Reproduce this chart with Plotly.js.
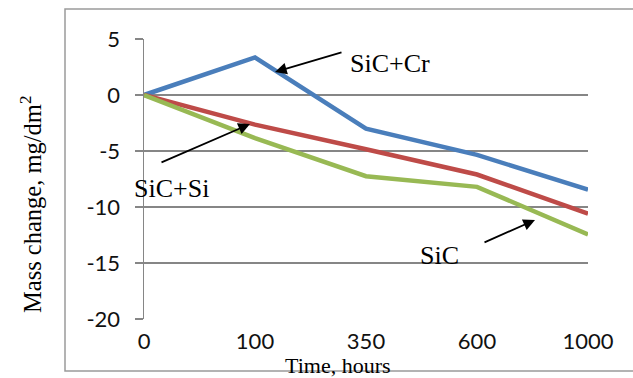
<!DOCTYPE html>
<html><head><meta charset="utf-8">
<script src="https://cdn.plot.ly/plotly-3.0.1.min.js"></script>
<style>html,body{margin:0;padding:0;background:#fff}#chart{width:633px;height:378px}</style>
</head><body><div id="chart"></div>
<script>
const hours = ['0','100','350','600','1000'];
const sicCr = [0, 3.35, -3.0, -5.35, -8.45];
const sicSi = [0, -2.65, -4.85, -7.1, -10.6];
const sic   = [0, -3.85, -7.25, -8.2, -12.45];
const yTicks = [5, 0, -5, -10, -15, -20];
const seriesNames = ['SiC+Cr', 'SiC+Si', 'SiC'];

const L = 144, R = 45, T = 39, B = 59, W = 633, H = 378;
const pw = W - L - R, ph = H - T - B;
const px = x => (x - L) / pw;
const py = y => (H - B - y) / ph;

const serif = 'Liberation Serif, Times New Roman, serif';
const mk = (y, c, n) => ({x: hours, y: y, type: 'scatter', mode: 'lines', name: n,
  line: {color: c, width: 4.5}, hoverinfo: 'skip'});
const data = [
  mk(sicCr, '#4a7ebb', seriesNames[0]),
  mk(sicSi, '#be4b48', seriesNames[1]),
  mk(sic, '#98b954', seriesNames[2])
];
const grey = '#868686';
const arrow = (tx, ty, ax, ay) => ({xref: 'paper', yref: 'paper', x: px(tx), y: py(ty), text: '',
  showarrow: true, ax: ax, ay: ay, arrowhead: 2, arrowsize: 1.3, arrowwidth: 1.8, arrowcolor: '#000'});
const label = (lx, ly, t) => ({xref: 'paper', yref: 'paper', x: px(lx), y: py(ly), text: t, showarrow: false,
  font: {family: serif, size: 26, color: '#000'}, xanchor: 'left', yanchor: 'middle'});
const layout = {
  width: W, height: H, showlegend: false,
  margin: {l: L, r: R, t: T, b: B, pad: 0},
  paper_bgcolor: '#fff', plot_bgcolor: '#fff',
  font: {family: 'Lato, sans-serif', size: 22, color: '#111'},
  xaxis: {type: 'category', categoryarray: hours, range: [0, 4],
    showgrid: false, zeroline: false, showline: false, ticks: '',
    tickfont: {family: 'Lato, sans-serif', size: 22, color: '#111'}, ticklabelstandoff: 7},
  xaxis2: {overlaying: 'x', anchor: 'free', position: 0.8, range: [0, 4], type: 'linear',
    tickvals: [1, 2, 3, 4], showticklabels: false, ticks: 'outside', ticklen: 7,
    tickcolor: grey, tickwidth: 1.5, showline: true, linecolor: grey, linewidth: 1.5,
    showgrid: false, zeroline: false},
  yaxis: {range: [-20, 5], tickvals: yTicks, ticktext: yTicks.map(String),
    showgrid: true, gridcolor: grey, gridwidth: 1.5, zeroline: false,
    showline: true, linecolor: grey, linewidth: 1.5,
    ticks: 'outside', ticklen: 8, tickcolor: grey, tickwidth: 1.5,
    tickfont: {family: 'Lato, sans-serif', size: 22, color: '#111'}, ticklabelstandoff: 10},
  shapes: [{type: 'rect', xref: 'paper', yref: 'paper', x0: px(65), x1: px(640),
    y0: py(371), y1: py(9), line: {color: '#9a9a9a', width: 1.5}, layer: 'below'}],
  annotations: [
    {xref: 'paper', yref: 'paper', x: px(338), y: py(365), text: 'Time, hours', showarrow: false,
      font: {family: serif, size: 22, color: '#000'}, xanchor: 'center', yanchor: 'middle', borderpad: 0},
    {xref: 'paper', yref: 'paper', x: px(31), y: py(205), text: 'Mass change, mg/dm<sup>2</sup>', showarrow: false,
      textangle: -90, font: {family: serif, size: 24.5, color: '#000'}, xanchor: 'center', yanchor: 'middle'},
    label(348, 63, seriesNames[0]),
    label(132, 188, seriesNames[1]),
    label(418, 255, seriesNames[2]),
    arrow(275, 72, 68, -20),
    arrow(250, 124, -90, 39),
    arrow(535, 220, -52, 23)
  ]
};
Plotly.newPlot('chart', data, layout, {staticPlot: true});
</script></body></html>
